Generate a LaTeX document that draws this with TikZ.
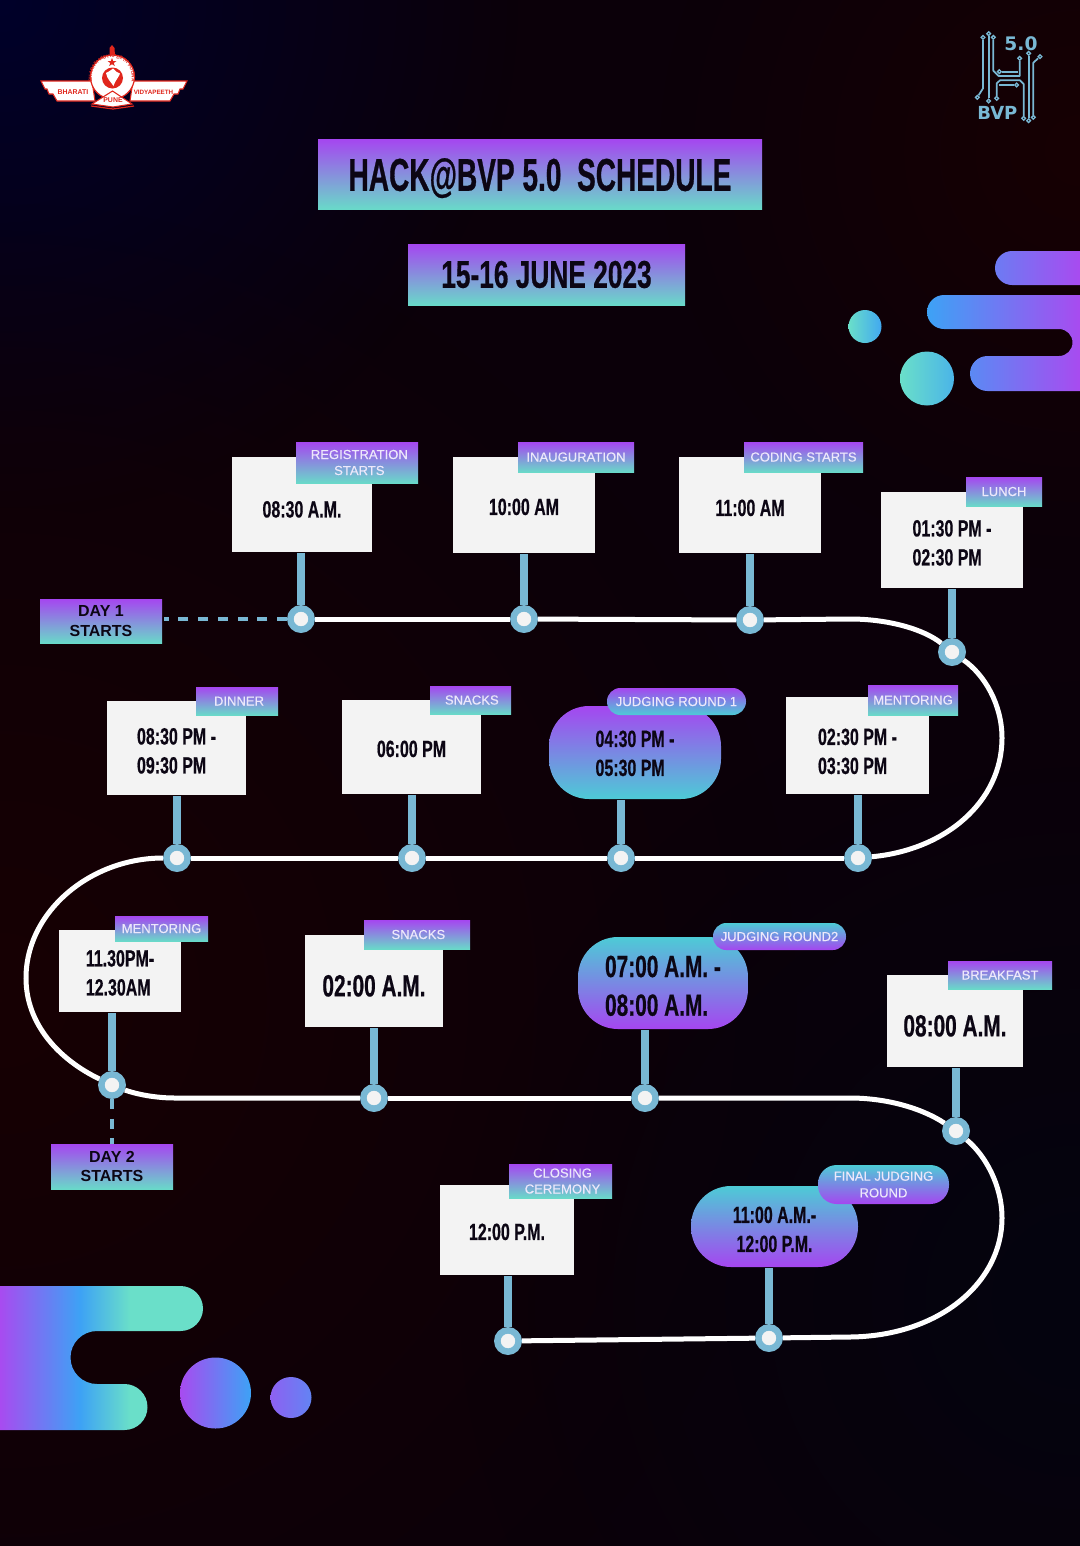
\documentclass[tikz,border=0pt]{standalone}
\usepackage{fontspec}
\usetikzlibrary{fadings,decorations.text}
\setmainfont{Liberation Sans}
\newfontfamily\bebas[FakeStretch=0.68,BoldFeatures={FakeBold=0.5}]{Liberation Sans}
\newfontfamily\bebastitle[FakeStretch=0.61,BoldFeatures={FakeBold=0.6}]{Liberation Sans}
\newfontfamily\tagfont[FakeBold=0.3]{Liberation Sans}
\newfontfamily\logofont{DejaVu Sans}
\newcommand{\sink}[1]{\rule{0pt}{\dimexpr\fontcharht\font`0+#1\dimexpr1.5pt\relax\relax}}

\definecolor{bgbase}{HTML}{0B0009}
\definecolor{bgnavy}{HTML}{00002A}
\definecolor{bgmaroon}{HTML}{170003}
\definecolor{bgdeep}{HTML}{04040F}
\definecolor{gradtop}{HTML}{A546F0}
\definecolor{gradbot}{HTML}{69D9C9}
\definecolor{pilltop}{HTML}{A546F0}
\definecolor{pillbot}{HTML}{4DCBD6}
\definecolor{blobblue}{HTML}{3DA2F5}
\definecolor{blobpurple}{HTML}{A84BF0}
\definecolor{blobteal}{HTML}{6ADFC9}
\definecolor{stemblue}{HTML}{79B8D4}
\definecolor{boxgrey}{HTML}{F3F3F3}
\definecolor{inkdark}{HTML}{0C0614}
\definecolor{taglight}{HTML}{EDE8FB}
\definecolor{logored}{HTML}{E0261C}

\tikzfading[name=glowfade, inner color=transparent!0, outer color=transparent!100]
\pgfdeclarehorizontalshading{blobshade}{100bp}{color(0bp)=(blobpurple);color(25bp)=(blobpurple);color(44.7bp)=(blobblue);color(57bp)=(blobteal);color(100bp)=(blobteal)}

\tikzset{every picture/.style={line width=0.75pt},
	sz/.style 2 args={minimum width=#1*0.75pt,minimum height=#2*0.75pt,inner sep=0pt},
	timebig/.style={font={\bebas\bfseries\fontsize{17.6pt}{21.75pt}\selectfont},align=left,text=inkdark},
	timehuge/.style={font={\bebas\bfseries\fontsize{23pt}{29pt}\selectfont},align=left,text=inkdark},
	timebox/.style={fill=boxgrey,timebig},
	gradbox/.style={top color=gradtop,bottom color=gradbot},
	pillup/.style={top color=pilltop,bottom color=pillbot,rounded corners=30pt,timebig},
	pilldown/.style={top color=pillbot,bottom color=pilltop,rounded corners=30pt,timebig},
	tagbox/.style={gradbox,text=taglight,align=center,font={\tagfont\fontsize{9.8pt}{12pt}\selectfont}},
	tagup/.style={top color=pilltop,bottom color=pillbot,rounded corners=10pt,text=taglight,align=center,font={\tagfont\fontsize{9.8pt}{12.5pt}\selectfont}},
	tagdown/.style={top color=pillbot,bottom color=pilltop,rounded corners=10pt,text=taglight,align=center,font={\tagfont\fontsize{9.8pt}{12.5pt}\selectfont}},
	daybox/.style={gradbox,text=inkdark,align=center,font={\bfseries\fontsize{12pt}{14.5pt}\selectfont}},
	dot/.style={circle,fill=boxgrey,draw=stemblue,line width=4.9pt,minimum size=16pt,inner sep=0pt},
	stem/.style={draw=stemblue,line width=6pt},
	trail/.style={draw=white,line width=3.75pt},
	dashline/.style={draw=stemblue,line width=2.4pt,dash pattern=on 7.5pt off 7.3pt},
	chip/.style={draw=stemblue,line width=1.3pt,line join=round},
	chipend/.style={circle,draw=stemblue,line width=1pt,fill=bgbase,minimum size=2.8pt,inner sep=0pt}
}

\begin{document}
\begin{tikzpicture}[x=0.75pt,y=0.75pt,yscale=-1,xscale=1]
	\useasboundingbox (0,0) rectangle (1080,1546);
	\clip (0,0) rectangle (1080,1546);

	% Background
	\fill[bgbase] (0,0) rectangle (1080,1546);
	\fill[bgnavy,path fading=glowfade] (0,0) circle (520);
	\fill[bgmaroon,path fading=glowfade] (0,1000) circle (800);
	\fill[bgmaroon,path fading=glowfade] (1080,150) circle (420);
	\fill[bgdeep,path fading=glowfade] (1080,1300) circle (620);

	% Blobs top right
	\shade[left color=blobblue,right color=blobpurple]
		(1080,251) -- (1012,251) arc[start angle=-90,end angle=-270,radius=17] -- (1080,285) -- cycle
		(1080,295) -- (944,295) arc[start angle=-90,end angle=-270,radius=17] -- (1059,329)
		arc[start angle=-90,end angle=90,radius=13.5] -- (987.5,356)
		arc[start angle=-90,end angle=-270,radius=17.5] -- (1080,391) -- cycle;
	\shade[left color=blobteal,right color=blobblue!90!blobteal] (865,326.5) circle (16.5);
	\shade[left color=blobteal,right color=blobblue!70!blobteal] (927,378.5) circle (27);

	% Blobs bottom left
	\path[shading=blobshade]
		(0,1286) -- (180.5,1286) arc[start angle=-90,end angle=90,radius=22.5] -- (97,1331)
		arc[start angle=-90,end angle=-270,radius=26.5] -- (124.5,1384)
		arc[start angle=-90,end angle=90,radius=23] -- (0,1430) -- cycle;
	\shade[left color=blobpurple,right color=blobblue] (215.5,1393) circle (35.5);
	\shade[left color=blobpurple!75!blobblue,right color=blobblue!65!blobpurple] (291,1397.5) circle (20.5);

	% Left logo
	\fill[logored] (112,45) -- (114.5,48) -- (115,56) -- (109.5,56) -- (109.5,48) -- cycle;
	\filldraw[fill=white,draw=logored,line width=0.8pt] (41,81) -- (92,81) -- (95,101) -- (57,101) -- (53,94) -- (49,94) -- (47,89) -- (45,89) -- cycle;
	\filldraw[fill=white,draw=logored,line width=0.8pt] (187,81) -- (133,81) -- (130,101) -- (170,101) -- (174,94) -- (178,94) -- (180,89) -- (183,89) -- cycle;
	\filldraw[fill=white,draw=logored,line width=0.9pt] (112.5,77) circle (22);
	\fill[logored] (112.5,78) circle (10.5);
	\fill[white] (106,73) .. controls (110,71) and (111,70) .. (113,68.5) .. controls (115,71) and (117,72.5) .. (120,73.5) .. controls (119,77) and (116,79) .. (113.5,86) .. controls (111,82) and (107,79) .. (106,73) -- cycle;
	\fill[logored] (112,58) -- (113.2,61) -- (116.5,61) -- (113.8,63) -- (114.8,66) -- (112,64.2) -- (109.2,66) -- (110.2,63) -- (107.5,61) -- (110.8,61) -- cycle;
	\path[postaction={decorate},decoration={text along path,text align=center,text={|\fontsize{3.5pt}{4pt}\bfseries\color{logored}|BHARATI VIDYAPEETH POONA}}]
		(97,91) arc[start angle=138,end angle=402,radius=20] ;
	\filldraw[fill=white,draw=logored,line width=0.8pt] (112.5,91) -- (132,104) -- (113,107) -- (92,104) -- cycle;
	\draw[logored,line width=0.9pt] (91,106) -- (113,109) -- (134,106);
	\node[text=logored,font={\bfseries\fontsize{5.2pt}{6pt}\selectfont},inner sep=0pt] (logoPune) at (113,100) {PUNE};
	\node[text=logored,font={\bfseries\fontsize{5.2pt}{6pt}\selectfont},inner sep=0pt] (logoBharati) at (73,92) {BHARATI};
	\node[text=logored,font={\bfseries\fontsize{4.7pt}{6pt}\selectfont},inner sep=0pt] (logoVidya) at (153.5,92) {VIDYAPEETH};

	% Right logo
	\begin{scope}[shift={(950,20)},x=0.25pt,y=0.25pt]
		\node[chipend] (chipA) at (99,52) {};
		\node[chipend] (chipB) at (82,232) {};
		\node[chipend] (chipC) at (116,41) {};
		\node[chipend] (chipD) at (116,243) {};
		\node[chipend] (chipE) at (130,52) {};
		\node[chipend] (chipF) at (209,115) {};
		\node[chipend] (chipG) at (148,155) {};
		\node[chipend] (chipH) at (140,235) {};
		\node[chipend] (chipI) at (221,295) {};
		\node[chipend] (chipJ) at (200,195) {};
		\node[chipend] (chipK) at (236,100) {};
		\node[chipend] (chipL) at (236,302) {};
		\node[chipend] (chipM) at (270,110) {};
		\node[chipend] (chipN) at (250,292) {};
		\draw[chip] (chipA) -- (99,205) -- (chipB);
		\draw[chip] (chipC) -- (chipD);
		\draw[chip] (chipE) -- (130,152) -- (146,168) -- (209,168) -- (chipF);
		\draw[chip] (chipG) -- (205,155);
		\draw[chip] (chipH) -- (140,190) -- (150,181) -- (210,181) -- (221,192) -- (chipI);
		\draw[chip] (146,195) -- (chipJ);
		\draw[chip] (chipK) -- (chipL);
		\draw[chip] (chipM) -- (250,128) -- (chipN);
		\node[text=stemblue,font={\logofont\bfseries\fontsize{14pt}{16pt}\selectfont},inner sep=0pt] (logoFive) at (213,72) {5.0};
		\node[text=stemblue,font={\logofont\bfseries\fontsize{13.5pt}{16pt}\selectfont},inner sep=0pt] (logoBvp) at (142,280) {BVP};
	\end{scope}

	% Title
	\node[gradbox,sz={444}{70},text=inkdark,font={\bebastitle\bfseries\fontsize{34.5pt}{40pt}\selectfont},text depth=0pt] (titleBox) at (540,174) {\sink{1}HACK@BVP 5.0\ \ SCHEDULE};
	\node[gradbox,sz={277}{61},text=inkdark,font={\bebas\bfseries\fontsize{29pt}{32pt}\selectfont}] (dateBox) at (546.5,274.5) {15-16 JUNE 2023};

	% Time boxes
	\node[timebox,sz={140}{95}] (regBox) at (302,504.5) {\sink{5}08:30 A.M.};
	\node[timebox,sz={142}{96}] (inaugBox) at (524,505) {\sink{2}10:00 AM};
	\node[timebox,sz={142}{96}] (codeBox) at (750,505) {\sink{3}11:00 AM};
	\node[timebox,sz={142}{96}] (lunchBox) at (952,540) {\sink{3}01:30 PM -\\02:30 PM};
	\node[timebox,sz={139}{94}] (dinnerBox) at (176.5,748) {\sink{3}08:30 PM -\\09:30 PM};
	\node[timebox,sz={139}{94}] (snackBox) at (411.5,747) {\sink{2}06:00 PM};
	\node[pillup,sz={172}{93}] (judgeBox) at (635,752.5) {\sink{1}04:30 PM -\\05:30 PM};
	\node[timebox,sz={143}{97}] (mentorBox) at (857.5,745.5) {\sink{6}02:30 PM -\\03:30 PM};
	\node[timebox,sz={122}{82}] (nightBox) at (120,971) {\sink{2}11.30PM-\\12.30AM};
	\node[timebox,timehuge,sz={138}{92}] (lateBox) at (374,981) {\sink{5}02:00 A.M.};
	\node[pilldown,timehuge,sz={170}{92}] (roundBox) at (663,983) {\sink{3}07:00 A.M. -\\08:00 A.M.};
	\node[timebox,timehuge,sz={136}{92}] (breakBox) at (955,1021) {\sink{5}08:00 A.M.};
	\node[timebox,sz={134}{90}] (closeBox) at (507,1230) {\sink{2}12:00 P.M.};
	\node[pilldown,sz={167}{81},align=center] (finalBox) at (774.5,1226.5) {\sink{3}11:00 A.M.-\\12:00 P.M.};

	% Day boxes
	\node[daybox,sz={122}{44}] (dayOne) at (101,621) {DAY 1\\STARTS};
	\node[daybox,sz={122}{45}] (dayTwo) at (112,1166.5) {DAY 2\\STARTS};

	% Dots
	\node[dot] (dotA) at (301,619) {};
	\node[dot] (dotB) at (524,619) {};
	\node[dot] (dotC) at (750,620) {};
	\node[dot] (dotD) at (952,652) {};
	\node[dot] (dotE) at (858,858) {};
	\node[dot] (dotF) at (621,858) {};
	\node[dot] (dotG) at (412,858) {};
	\node[dot] (dotH) at (177,858) {};
	\node[dot] (dotI) at (112,1085) {};
	\node[dot] (dotJ) at (374,1098) {};
	\node[dot] (dotK) at (645,1098) {};
	\node[dot] (dotL) at (956,1131) {};
	\node[dot] (dotM) at (769,1338) {};
	\node[dot] (dotN) at (508,1341) {};

	% Stems
	\draw[stem] (dotA) -- (dotA |- regBox.south);
	\draw[stem] (dotB) -- (dotB |- inaugBox.south);
	\draw[stem] (dotC) -- (dotC |- codeBox.south);
	\draw[stem] (dotD) -- (dotD |- lunchBox.south);
	\draw[stem] (dotE) -- (dotE |- mentorBox.south);
	\draw[stem] (dotF) -- (dotF |- judgeBox.south);
	\draw[stem] (dotG) -- (dotG |- snackBox.south);
	\draw[stem] (dotH) -- (dotH |- dinnerBox.south);
	\draw[stem] (dotI) -- (dotI |- nightBox.south);
	\draw[stem] (dotJ) -- (dotJ |- lateBox.south);
	\draw[stem] (dotK) -- (dotK |- roundBox.south);
	\draw[stem] (dotL) -- (dotL |- breakBox.south);
	\draw[stem] (dotM) -- (dotM |- finalBox.south);
	\draw[stem] (dotN) -- (dotN |- closeBox.south);

	% Dashed links
	\coordinate (dashEnd) at (164,619);
	\draw[dashline] (dotA) -- (dashEnd);
	\draw[dashline] (dotI) -- (dotI |- dayTwo.north);

	% White trail
	\coordinate (bendA) at (850,619);
	\coordinate (bendB) at (1002,738);
	\coordinate (bendC) at (26,978);
	\coordinate (bendD) at (175,1098);
	\coordinate (bendE) at (850,1098);
	\coordinate (bendF) at (1002,1218);
	\coordinate (bendG) at (850,1337);
	\draw[trail] (dotA) -- (dotB);
	\draw[trail] (dotB) -- (dotC);
	\draw[trail] (dotC) -- (bendA) .. controls (890,619) and (925,630) .. (dotD);
	\draw[trail] (dotD) .. controls (985,675) and (1002,705) .. (bendB) .. controls (1002,802) and (945,850) .. (dotE);
	\draw[trail] (dotE) -- (dotF);
	\draw[trail] (dotF) -- (dotG);
	\draw[trail] (dotG) -- (dotH);
	\draw[trail] (dotH) .. controls (90,858) and (26,912) .. (bendC) .. controls (26,1025) and (60,1060) .. (dotI);
	\draw[trail] (dotI) .. controls (130,1092) and (150,1098) .. (bendD) -- (dotJ);
	\draw[trail] (dotJ) -- (dotK);
	\draw[trail] (dotK) -- (bendE) .. controls (890,1098) and (925,1110) .. (dotL);
	\draw[trail] (dotL) .. controls (985,1155) and (1002,1185) .. (bendF) .. controls (1002,1282) and (940,1336) .. (bendG) -- (dotM);
	\draw[trail] (dotM) -- (dotN);

	% Tags
	\node[tagbox,sz={122}{41}] (regTag) at (357,462.5) {\hspace*{3.5pt}REGISTRATION\\\hspace*{3.5pt}STARTS};
	\node[tagbox,sz={116}{30}] (inaugTag) at (576,457) {INAUGURATION};
	\node[tagbox,sz={119}{30}] (codeTag) at (803.5,457) {CODING STARTS};
	\node[tagbox,sz={76}{29}] (lunchTag) at (1004,491.5) {LUNCH};
	\node[tagbox,sz={82}{28}] (dinnerTag) at (237,701) {\hspace*{3pt}DINNER};
	\node[tagbox,sz={81}{28}] (snackTag) at (470.5,700) {\hspace*{2pt}SNACKS};
	\node[tagup,sz={139}{27}] (judgeTag) at (676.5,701.5) {JUDGING ROUND 1};
	\node[tagbox,sz={90}{30}] (mentorTag) at (913,700) {MENTORING};
	\node[tagbox,sz={93}{25}] (nightTag) at (161.5,928.5) {MENTORING};
	\node[tagbox,sz={106}{29}] (lateTag) at (417,934.5) {\hspace*{2pt}SNACKS};
	\node[tagdown,sz={133}{27}] (roundTag) at (779.5,936.5) {JUDGING ROUND2};
	\node[tagbox,sz={104}{28}] (breakTag) at (1000,975) {BREAKFAST};
	\node[tagbox,sz={103}{34}] (closeTag) at (560.5,1181) {\hspace*{3pt}CLOSING\\\hspace*{3pt}CEREMONY};
	\node[tagdown,sz={131}{39},rounded corners=14pt] (finalTag) at (883.5,1184.5) {FINAL JUDGING\\ ROUND};
\end{tikzpicture}
\end{document}
